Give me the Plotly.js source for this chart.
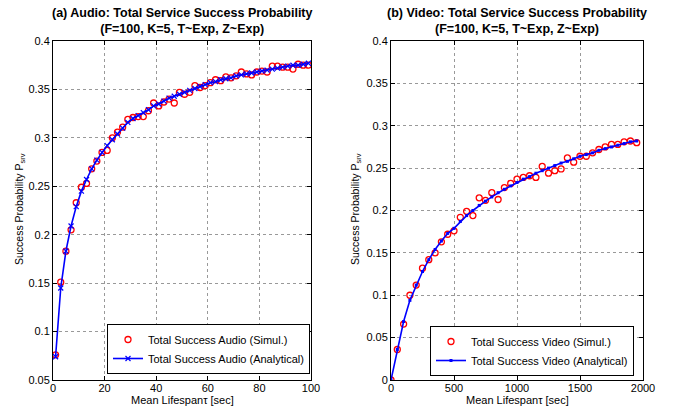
<!DOCTYPE html>
<html>
<head>
<meta charset="utf-8">
<script src="https://cdn.plot.ly/plotly-3.0.1.min.js"></script>
<style>html,body{margin:0;padding:0;background:#fff;}#plot{width:673px;height:406px;}</style>
</head>
<body>
<div id="plot"></div>
<script>
// Audio (left) data
var audioX = [1,3,5,7,9,11,13,15,17,19,21,23,25,27,29,31,33,35,37,39,41,43,45,47,49,51,53,55,57,59,61,63,65,67,69,71,73,75,77,79,81,83,85,87,89,91,93,95,97,99];
var audioSim = [0.076,0.151,0.183,0.205,0.233,0.249,0.253,0.268,0.276,0.285,0.287,0.300,0.306,0.311,0.319,0.321,0.322,0.322,0.328,0.336,0.333,0.337,0.340,0.336,0.347,0.345,0.347,0.354,0.352,0.354,0.357,0.360,0.359,0.363,0.362,0.364,0.368,0.366,0.365,0.368,0.369,0.368,0.374,0.374,0.373,0.373,0.371,0.376,0.375,0.375];
var audioAna = [0.074,0.145,0.183,0.209,0.229,0.245,0.257,0.268,0.277,0.285,0.292,0.298,0.304,0.310,0.316,0.320,0.323,0.326,0.329,0.333,0.335,0.338,0.341,0.343,0.345,0.347,0.349,0.351,0.353,0.355,0.357,0.358,0.360,0.361,0.362,0.364,0.365,0.366,0.367,0.368,0.369,0.370,0.371,0.372,0.373,0.374,0.375,0.375,0.376,0.377];

// Video (right) data
var videoX = [0,50,100,150,200,250,300,350,400,450,500,550,600,650,700,750,800,850,900,950,1000,1050,1100,1150,1200,1250,1300,1350,1400,1450,1500,1550,1600,1650,1700,1750,1800,1850,1900,1950];
var videoSim = [0.000,0.036,0.066,0.100,0.112,0.132,0.142,0.150,0.163,0.172,0.176,0.192,0.199,0.194,0.215,0.212,0.221,0.213,0.227,0.232,0.237,0.239,0.241,0.239,0.252,0.244,0.247,0.249,0.262,0.257,0.264,0.264,0.268,0.272,0.275,0.278,0.278,0.281,0.282,0.280];
var videoAna = [0.000,0.036,0.069,0.094,0.112,0.128,0.142,0.154,0.164,0.173,0.179,0.187,0.194,0.200,0.206,0.211,0.216,0.221,0.225,0.229,0.233,0.237,0.240,0.244,0.247,0.250,0.253,0.256,0.258,0.261,0.264,0.266,0.268,0.271,0.273,0.275,0.277,0.279,0.281,0.282];

var leftTitle = "(a) Audio: Total Service Success Probability<br>(F=100, K=5, T~Exp, Z~Exp)";
var rightTitle = "(b) Video: Total Service Success Probability<br>(F=100, K=5, T~Exp, Z~Exp)";
var xLabel = "Mean Lifespan\u03c4 [sec]";
var yLabel = "Success Probability P<sub>srv</sub>";

var W = 673, H = 406;
function px(x){return x/W;}
function py(y){return 1 - y/H;}

var font = "Liberation Sans, Arial, Helvetica, sans-serif";

var traces = [
  {x: audioX, y: audioSim, type:'scatter', mode:'markers', name:'Total Success Audio (Simul.)',
   marker:{symbol:'circle-open', size:6, color:'#ff0000', line:{width:1.3, color:'#ff0000'}}, xaxis:'x', yaxis:'y', legend:'legend'},
  {x: audioX, y: audioAna, type:'scatter', mode:'lines+markers', name:'Total Success Audio (Analytical)',
   line:{color:'#0000ff', width:1.6}, marker:{symbol:'x-thin-open', size:5, color:'#0000ff', line:{width:1.2, color:'#0000ff'}}, xaxis:'x', yaxis:'y', legend:'legend'},
  {x: videoX, y: videoSim, type:'scatter', mode:'markers', name:'Total Success Video (Simul.)',
   marker:{symbol:'circle-open', size:6, color:'#ff0000', line:{width:1.3, color:'#ff0000'}}, xaxis:'x2', yaxis:'y2', legend:'legend2'},
  {x: videoX, y: videoAna, type:'scatter', mode:'lines+markers', name:'Total Success Video (Analytical)',
   line:{color:'#0000ff', width:1.6}, marker:{symbol:'square', size:3, color:'#0000ff'}, xaxis:'x2', yaxis:'y2', legend:'legend2'}
];

var axCommon = {
  showline:true, linecolor:'#000', linewidth:1, mirror:'ticks',
  ticks:'inside', ticklen:4, tickcolor:'#000', tickwidth:1,
  showgrid:true, gridcolor:'#999999', griddash:'dot', gridwidth:1,
  zeroline:false, tickfont:{family:font, size:11, color:'#000'}, fixedrange:true
};
function ax(extra){ var o = {}; for (var k in axCommon) o[k]=axCommon[k]; for (var k2 in extra) o[k2]=extra[k2]; return o; }

var legendCommon = {
  bgcolor:'#fff', bordercolor:'#000', borderwidth:1,
  font:{family:font, size:11, color:'#000'}, xanchor:'right', yanchor:'top',
  tracegroupgap:0, itemwidth:30
};
function lg(extra){ var o = {}; for (var k in legendCommon) o[k]=legendCommon[k]; for (var k2 in extra) o[k2]=extra[k2]; return o; }

var layout = {
  width: W, height: H,
  margin:{l:0, r:0, t:0, b:0},
  paper_bgcolor:'#fff', plot_bgcolor:'#fff',
  showlegend:true,
  xaxis: ax({domain:[px(53), px(311)], range:[0,100], dtick:20, tick0:0, anchor:'y', ticklabelstandoff:-2}),
  yaxis: ax({domain:[py(380), py(41)], range:[0.05,0.4], dtick:0.05, tick0:0.05, anchor:'x'}),
  xaxis2: ax({domain:[px(391), px(643)], range:[0,2000], dtick:500, tick0:0, anchor:'y2', ticklabelstandoff:-2}),
  yaxis2: ax({domain:[py(380), py(41)], range:[0,0.4], dtick:0.05, tick0:0, anchor:'x2'}),
  legend: lg({x:px(310), y:py(324)}),
  legend2: lg({x:px(634), y:py(326)}),
  annotations: [
    {text:leftTitle, x:px(182), y:py(4), xref:'paper', yref:'paper', xanchor:'center', yanchor:'top', showarrow:false,
     font:{family:font, size:12.5, color:'#000', weight:'bold'}},
    {text:rightTitle, x:px(517), y:py(4), xref:'paper', yref:'paper', xanchor:'center', yanchor:'top', showarrow:false,
     font:{family:font, size:12.5, color:'#000', weight:'bold'}},
    {text:xLabel, x:px(182), y:py(408), xref:'paper', yref:'paper', xanchor:'center', yanchor:'bottom', showarrow:false,
     font:{family:font, size:11, color:'#000'}},
    {text:xLabel, x:px(517), y:py(408), xref:'paper', yref:'paper', xanchor:'center', yanchor:'bottom', showarrow:false,
     font:{family:font, size:11, color:'#000'}},
    {text:yLabel, x:px(20), y:py(209), xref:'paper', yref:'paper', xanchor:'center', yanchor:'middle', showarrow:false, textangle:-90,
     font:{family:font, size:10.5, color:'#000'}},
    {text:yLabel, x:px(356), y:py(209), xref:'paper', yref:'paper', xanchor:'center', yanchor:'middle', showarrow:false, textangle:-90,
     font:{family:font, size:10.5, color:'#000'}}
  ]
};

Plotly.newPlot('plot', traces, layout, {staticPlot:true, displayModeBar:false});
</script>
</body>
</html>
